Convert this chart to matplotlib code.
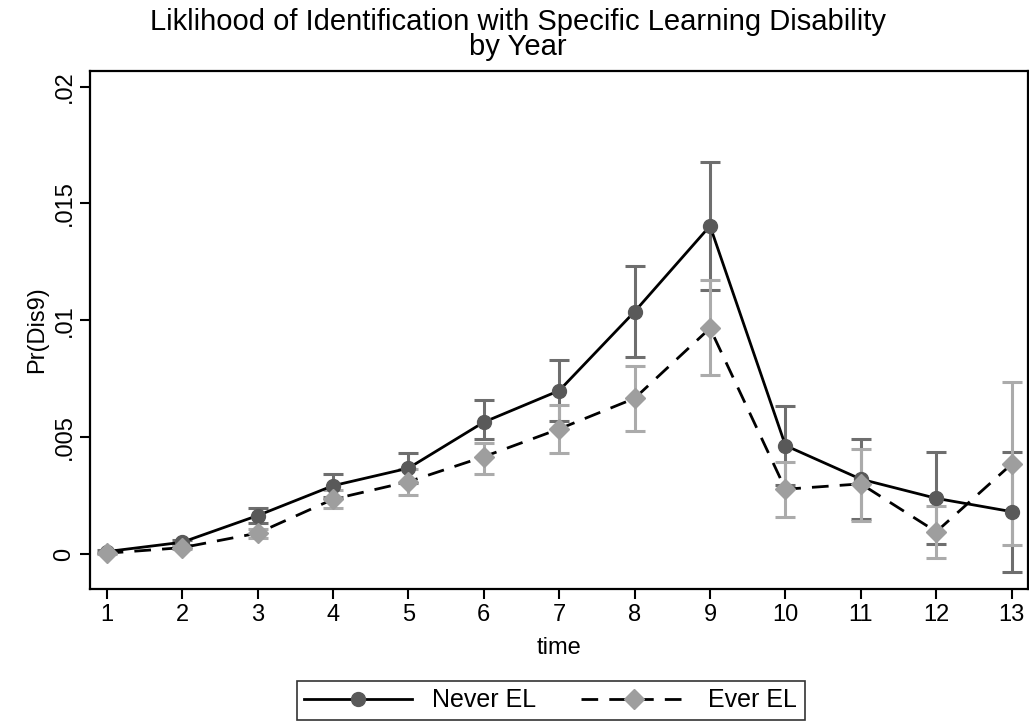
import numpy as np
import matplotlib
matplotlib.use("Agg")
import matplotlib.pyplot as plt
from matplotlib.lines import Line2D

plt.rcParams["font.family"] = ["Liberation Sans", "DejaVu Sans"]

# Values
time = [1, 2, 3, 4, 5, 6, 7, 8, 9, 10, 11, 12, 13]

never_est = [0.0001, 0.0005, 0.00164, 0.00292, 0.00367, 0.00564, 0.00699,
             0.01037, 0.01404, 0.00464, 0.0032, 0.00238, 0.00181]
never_lo = [0.00005, 0.0004, 0.00131, 0.00243, 0.00303, 0.00492, 0.00571,
            0.00843, 0.0113, 0.00295, 0.0015, 0.00042, -0.00076]
never_hi = [0.00015, 0.0006, 0.00196, 0.00341, 0.00431, 0.00659, 0.00829,
            0.01233, 0.01679, 0.00633, 0.00491, 0.00435, 0.00438]

ever_est = [0.00003, 0.00027, 0.00089, 0.00234, 0.00309, 0.00416, 0.00535,
            0.00666, 0.00966, 0.00277, 0.003, 0.00095, 0.00385]
ever_lo = [0.0, 0.0002, 0.0007, 0.00196, 0.00253, 0.00341, 0.00431,
           0.00528, 0.00766, 0.0016, 0.00143, -0.00018, 0.00039]
ever_hi = [0.00006, 0.00034, 0.00108, 0.00272, 0.00365, 0.00474, 0.00638,
           0.00803, 0.01173, 0.00395, 0.00448, 0.00207, 0.00735]

y_ticks = [0, 0.005, 0.01, 0.015, 0.02]
y_tick_labels = ["0", ".005", ".01", ".015", ".02"]

dark = "#595959"
dark_ci = "#6e6e6e"
light = "#9e9e9e"
light_ci = "#ababab"

fig = plt.figure(figsize=(10.29, 7.28), dpi=100)
ax = fig.add_axes([90 / 1029, 1 - 589 / 728, (1028 - 90) / 1029, (589 - 70.5) / 728])

t = np.array(time)


def draw_series(est, lo, hi, color, ci_color, marker, ms, ls):
    est = np.array(est)
    err = [est - np.array(lo), np.array(hi) - est]
    ax.errorbar(t, est, yerr=err, fmt="none", ecolor=ci_color, elinewidth=2.2,
                capsize=7.5, capthick=2.2, zorder=2)
    ax.plot(t, est, color="black", linestyle=ls, linewidth=2, zorder=3,
            dashes=(6, 4) if ls == "--" else (None, None))
    ax.plot(t, est, linestyle="none", marker=marker, markersize=ms,
            color=color, markeredgecolor=color, zorder=4)


draw_series(never_est, never_lo, never_hi, dark, dark_ci, "o", 10, "-")
draw_series(ever_est, ever_lo, ever_hi, light, light_ci, "D", 10, "--")

ax.set_xlim(0.779, 13.216)
ax.set_ylim(-0.0015, 0.02069)
ax.set_xticks(time)
ax.set_yticks(y_ticks)
ax.set_yticklabels(y_tick_labels, rotation=90, va="center")
ax.tick_params(axis="both", labelsize=17, width=1.5, length=7, direction="out",
               color="black")
for s in ax.spines.values():
    s.set_linewidth(1.6)

ax.set_xlabel("time", fontsize=17, labelpad=8)
ax.set_ylabel("Pr(Dis9)", fontsize=17, labelpad=4)

fig.text(0.503, 0.989,
         "Liklihood of Identification with Specific Learning Disability\nby Year",
         ha="center", va="top", fontsize=21, linespacing=0.85)

handles = [
    Line2D([], [], color="black", linestyle="-", linewidth=2, marker="o",
           markersize=10, markerfacecolor=dark, markeredgecolor=dark),
    Line2D([], [], color="black", linewidth=2, dashes=(6, 4), marker="D",
           markersize=10, markerfacecolor=light, markeredgecolor=light),
]
leg = fig.legend(handles, ["Never EL", "Ever EL"], loc="lower center",
                 bbox_to_anchor=(0.535, -0.006), ncol=2, fontsize=18,
                 frameon=True, fancybox=False, edgecolor="black",
                 handlelength=4.3, numpoints=1, columnspacing=1.8,
                 borderpad=0.3, handletextpad=0.8)
leg.get_frame().set_linewidth(1.2)

fig.savefig("out.png", dpi=100)
